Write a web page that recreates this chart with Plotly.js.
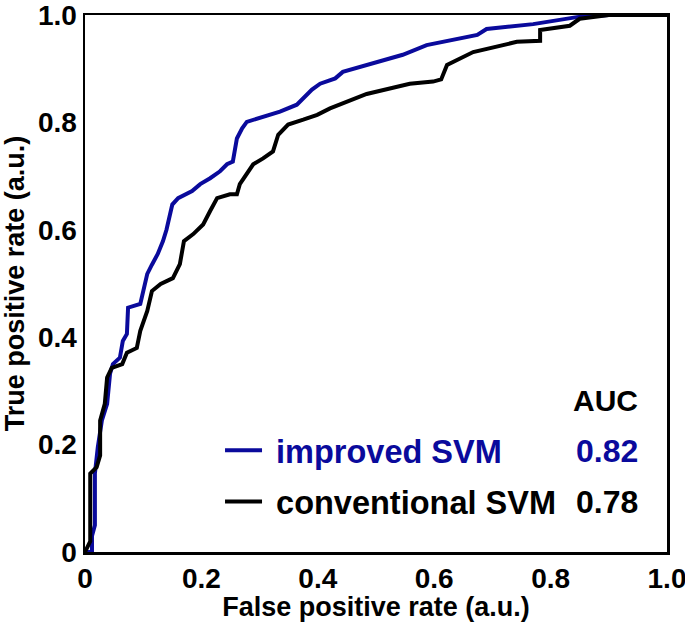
<!DOCTYPE html>
<html>
<head>
<meta charset="utf-8">
<script src="https://cdn.plot.ly/plotly-3.0.1.min.js"></script>
<style>html,body{margin:0;padding:0;background:#fff;}#chart{width:685px;height:622px;}</style>
</head>
<body>
<div id="chart"></div>
<script>
// Improved SVM ROC curve (false positive rate, true positive rate)
var improvedFPR = [0, 0.012, 0.012, 0.017, 0.017, 0.022, 0.029, 0.038, 0.043, 0.048, 0.060, 0.065, 0.072, 0.074, 0.095, 0.100, 0.107, 0.115, 0.125, 0.134, 0.140, 0.150, 0.160, 0.184, 0.198, 0.215, 0.232, 0.244, 0.254, 0.261, 0.270, 0.278, 0.306, 0.335, 0.364, 0.378, 0.390, 0.404, 0.430, 0.443, 0.507, 0.546, 0.587, 0.674, 0.690, 0.770, 0.845, 0.900, 1.0];
var improvedTPR = [0, 0.0, 0.03, 0.05, 0.146, 0.195, 0.245, 0.276, 0.332, 0.350, 0.362, 0.393, 0.406, 0.455, 0.462, 0.486, 0.518, 0.535, 0.555, 0.579, 0.600, 0.647, 0.659, 0.672, 0.685, 0.696, 0.709, 0.722, 0.727, 0.770, 0.789, 0.801, 0.811, 0.820, 0.833, 0.848, 0.861, 0.872, 0.882, 0.894, 0.913, 0.926, 0.944, 0.963, 0.974, 0.983, 0.996, 1.0, 1.0];

// Conventional SVM ROC curve
var convFPR = [0, 0.009, 0.009, 0.009, 0.020, 0.026, 0.026, 0.034, 0.038, 0.046, 0.064, 0.072, 0.089, 0.095, 0.107, 0.115, 0.130, 0.151, 0.163, 0.170, 0.186, 0.203, 0.215, 0.227, 0.249, 0.261, 0.266, 0.278, 0.289, 0.306, 0.323, 0.332, 0.349, 0.375, 0.399, 0.421, 0.484, 0.558, 0.598, 0.612, 0.622, 0.667, 0.742, 0.782, 0.782, 0.833, 0.850, 0.900, 1.0];
var convTPR = [0, 0.02, 0.046, 0.146, 0.158, 0.180, 0.245, 0.276, 0.325, 0.343, 0.350, 0.371, 0.380, 0.412, 0.449, 0.486, 0.499, 0.510, 0.536, 0.579, 0.592, 0.610, 0.635, 0.659, 0.666, 0.666, 0.685, 0.703, 0.722, 0.733, 0.746, 0.777, 0.796, 0.805, 0.814, 0.826, 0.853, 0.872, 0.876, 0.880, 0.907, 0.931, 0.950, 0.952, 0.972, 0.980, 0.993, 1.0, 1.0];

var seriesNames = ['improved SVM', 'conventional SVM'];
var aucValues = ['0.82', '0.78'];
var tickVals = [0, 0.2, 0.4, 0.6, 0.8, 1.0];
var tickText = ['0', '0.2', '0.4', '0.6', '0.8', '1.0'];

var BLUE = '#0a0a9c';
var FONT = 'Liberation Sans, Arial, sans-serif';

var traces = [
  {x: improvedFPR, y: improvedTPR, mode: 'lines', type: 'scatter',
   name: '\u00a0<span style="color:' + BLUE + '">' + seriesNames[0] + '</span>',
   legendgroup: 'a', line: {color: BLUE, width: 4}},
  {x: convFPR, y: convTPR, mode: 'lines', type: 'scatter',
   name: '\u00a0' + seriesNames[1],
   legendgroup: 'b', line: {color: '#000000', width: 4}}
];

var axisCommon = {
  range: [0, 1], tickvals: tickVals, ticktext: tickText, ticks: '',
  ticklabeloverflow: 'allow',
  showgrid: false, zeroline: false, showline: true, mirror: true,
  linecolor: '#000', linewidth: 2.5,
  tickfont: {family: FONT, size: 28, color: '#000', weight: 'bold'}
};

var layout = {
  width: 685, height: 622,
  margin: {l: 85, r: 18, t: 15, b: 70},
  paper_bgcolor: '#fff', plot_bgcolor: '#fff',
  font: {family: FONT, color: '#000'},
  xaxis: Object.assign({}, axisCommon, {
    title: {text: 'False positive rate (a.u.)', standoff: 2,
            font: {family: FONT, size: 27, color: '#000', weight: 'bold'}}
  }),
  yaxis: Object.assign({}, axisCommon, {
    title: {text: 'True positive rate (a.u.)', standoff: 6,
            font: {family: FONT, size: 27, color: '#000', weight: 'bold'}}
  }),
  showlegend: true,
  legend: {
    x: 0.232, y: 0.241, xanchor: 'left', yanchor: 'top',
    bgcolor: 'rgba(0,0,0,0)', borderwidth: 0,
    traceorder: 'grouped', tracegroupgap: 6, itemwidth: 37,
    font: {family: FONT, size: 32.5, color: '#000', weight: 'bold'}
  },
  annotations: [
    {xref: 'paper', yref: 'paper', x: 0.953, y: 0.282, xanchor: 'right', yanchor: 'middle',
     text: 'AUC', showarrow: false, font: {family: FONT, size: 30, color: '#000', weight: 'bold'}},
    {xref: 'paper', yref: 'paper', x: 0.953, y: 0.188, xanchor: 'right', yanchor: 'middle',
     text: aucValues[0], showarrow: false, font: {family: FONT, size: 32, color: BLUE, weight: 'bold'}},
    {xref: 'paper', yref: 'paper', x: 0.953, y: 0.093, xanchor: 'right', yanchor: 'middle',
     text: aucValues[1], showarrow: false, font: {family: FONT, size: 32, color: '#000', weight: 'bold'}}
  ]
};

Plotly.newPlot('chart', traces, layout, {displayModeBar: false, staticPlot: true});
</script>
</body>
</html>
